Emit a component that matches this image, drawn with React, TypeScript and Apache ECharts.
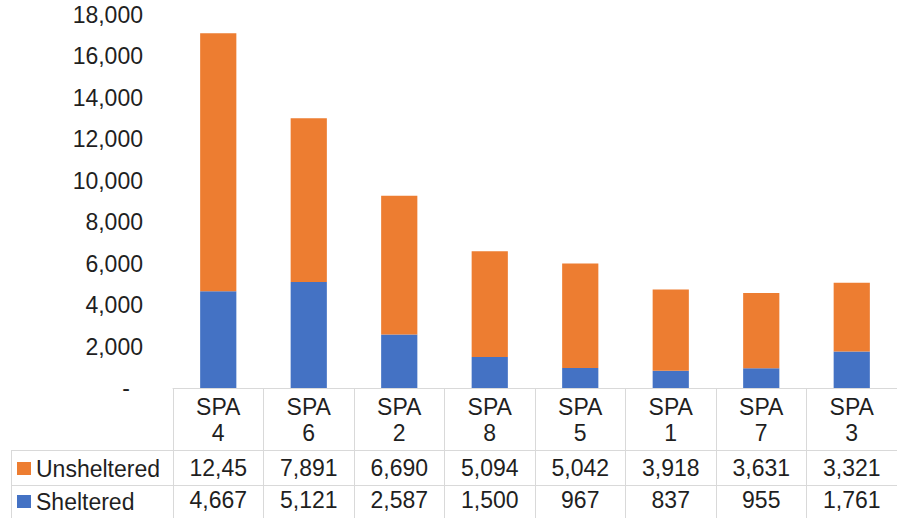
import React, { useEffect, useRef } from "react";
import * as echarts from "echarts";

const categories = ["SPA 4", "SPA 6", "SPA 2", "SPA 8", "SPA 5", "SPA 1", "SPA 7", "SPA 3"];
const unsheltered = [12455, 7891, 6690, 5094, 5042, 3918, 3631, 3321];
const sheltered = [4667, 5121, 2587, 1500, 967, 837, 955, 1761];
const yTicks = { min: 0, max: 18000, interval: 2000 };

const FONT = "'Liberation Sans', Arial, sans-serif";
const FS = 23;
const TXT = "#1f1f1f";
const LINE = "#d9d9d9";
const ORANGE = "#ED7D31";
const BLUE = "#4472C4";

const fmt = (v: number) => v.toLocaleString("en-US");

export default function App() {
  const ref = useRef<HTMLDivElement>(null);
  useEffect(() => {
    if (!ref.current) return;
    const chart = echarts.init(ref.current, null, { renderer: "svg" });
    const rowAxis = (offset: number, margin: number, values: number[]) => ({
      type: "category",
      data: categories,
      position: "bottom",
      offset,
      axisLine: { show: true, lineStyle: { color: LINE, width: 1 } },
      axisTick: { show: false },
      axisLabel: {
        interval: 0,
        margin,
        verticalAlign: "middle",
        fontFamily: FONT,
        fontSize: FS,
        color: TXT,
        width: 63,
        overflow: "truncate",
        ellipsis: "",
        formatter: (_: string, i: number) => fmt(values[i]),
      },
    });
    chart.setOption({
      animation: false,
      backgroundColor: "#fff",
      textStyle: { fontFamily: FONT },
      grid: { left: 173, right: -9, top: 15, bottom: 130, containLabel: false },
      legend: {
        orient: "vertical",
        left: 17,
        top: 457,
        height: 80,
        padding: 0,
        selectedMode: false,
        icon: "rect",
        itemWidth: 14,
        itemHeight: 13,
        itemGap: 10,
        data: ["Unsheltered", "Sheltered"],
        textStyle: { fontFamily: FONT, fontSize: FS, color: TXT, lineHeight: 22 },
      },
      xAxis: [
        {
          type: "category",
          data: categories,
          position: "bottom",
          axisLine: { show: true, lineStyle: { color: LINE, width: 1 } },
          axisTick: { show: true, length: 140, lineStyle: { color: LINE, width: 1 } },
          axisLabel: {
            interval: 0,
            margin: 6,
            lineHeight: 26,
            fontFamily: FONT,
            fontSize: FS,
            color: TXT,
            formatter: (v: string) => v.replace(" ", "\n"),
          },
        },
        rowAxis(62, 18, unsheltered),
        rowAxis(97, 15, sheltered),
      ],
      yAxis: {
        type: "value",
        min: yTicks.min,
        max: yTicks.max,
        interval: yTicks.interval,
        axisLine: { show: false },
        axisTick: { show: false },
        splitLine: { show: false },
        axisLabel: {
          margin: 30,
          fontFamily: FONT,
          fontSize: FS,
          color: TXT,
          formatter: (v: number) => (v === 0 ? "{d|-}" : fmt(v)),
          rich: { d: { fontFamily: FONT, fontSize: FS, color: TXT, padding: [0, 13, 0, 0] } },
        },
      },
      series: [
        {
          name: "Sheltered",
          type: "bar",
          stack: "total",
          barWidth: "40%",
          itemStyle: { color: BLUE },
          data: sheltered,
        },
        {
          name: "Unsheltered",
          type: "bar",
          stack: "total",
          barWidth: "40%",
          itemStyle: { color: ORANGE },
          data: unsheltered,
        },
      ],
      graphic: [
        { type: "line", shape: { x1: 11, y1: 450.5, x2: 173, y2: 450.5 }, style: { stroke: LINE, lineWidth: 1 } },
        { type: "line", shape: { x1: 11, y1: 485.5, x2: 173, y2: 485.5 }, style: { stroke: LINE, lineWidth: 1 } },
        { type: "line", shape: { x1: 11.5, y1: 450, x2: 11.5, y2: 518 }, style: { stroke: LINE, lineWidth: 1 } },
      ],
    });
    return () => chart.dispose();
  }, []);
  return (
    <div style={{ position: "fixed", left: 0, top: 0, width: 897, height: 518, overflow: "hidden", background: "#fff" }}>
      <div ref={ref} style={{ width: 897, height: 518 }} />
    </div>
  );
}
